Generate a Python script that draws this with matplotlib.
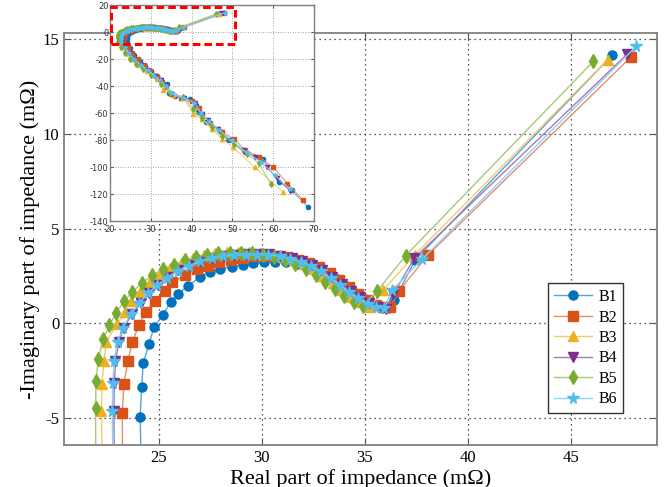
import numpy as np
import matplotlib
matplotlib.use('Agg')
import matplotlib.pyplot as plt
from matplotlib.patches import Rectangle
from matplotlib.colors import to_rgb

plt.rcParams['axes.unicode_minus'] = False

# 数据：实部 / 负虚部 (mΩ)
# *_x / *_y：主图可见部分（从低频端 -5 附近到高频端）
# *_tx / *_ty：低频尾部（只在小图中可见），按从远到近排列
b1_x = [24.10, 24.17, 24.25, 24.52, 24.77, 25.20, 25.58, 25.95, 26.44, 27.00, 27.49, 27.98, 28.55, 29.08,
        29.60, 30.12, 30.65, 31.18, 31.70, 32.20, 32.70, 33.18, 33.65, 34.10, 34.55, 35.00, 35.45, 35.85,
        36.15, 36.45, 37.46, 47.03]
b1_y = [-4.90, -3.35, -2.10, -1.10, -0.20, 0.47, 1.12, 1.56, 2.00, 2.44, 2.70, 2.88, 3.00, 3.10,
        3.17, 3.22, 3.24, 3.22, 3.15, 3.05, 2.88, 2.65, 2.35, 2.00, 1.62, 1.27, 0.98, 0.82,
        0.80, 1.25, 3.35, 14.14]
b1_tx = [68.6, 64.5, 61.3, 57.4, 53.1, 49.0, 47.0, 43.5, 41.5, 41.1, 39.6, 36.0, 34.5, 33.9, 32.6, 31.5,
         30.1, 28.7, 27.3, 26.0, 24.9, 24.15]
b1_ty = [-129.6, -117, -110.7, -94, -89, -80, -73, -66.7, -59, -54, -49.5, -47.5, -45, -38.5, -35.5, -32,
         -28.5, -25, -21, -16.5, -11.5, -7.5]

b2_x = [23.23, 23.31, 23.50, 23.71, 24.04, 24.39, 24.80, 25.30, 25.66, 26.27, 26.84, 27.40, 27.95, 28.50,
        29.04, 29.60, 30.15, 30.70, 31.25, 31.78, 32.30, 32.80, 33.30, 33.78, 34.25, 34.70, 35.15, 35.55,
        35.95, 36.25, 36.65, 38.10, 47.95]
b2_y = [-4.70, -3.20, -2.00, -1.00, -0.07, 0.60, 1.17, 1.70, 2.17, 2.53, 2.88, 3.05, 3.23, 3.35,
        3.46, 3.54, 3.56, 3.55, 3.48, 3.36, 3.18, 2.95, 2.65, 2.30, 1.92, 1.55, 1.22, 0.98,
        0.85, 0.85, 1.70, 3.63, 14.05]
b2_tx = [67.2, 63.5, 60.0, 56.5, 53.0, 50.5, 47.5, 44.5, 42.6, 41.8, 40.0, 37.5, 35.0, 33.8, 32.8, 31.6,
         29.9, 28.3, 26.8, 25.5, 24.3, 23.25]
b2_ty = [-124, -112, -100, -92, -87, -79, -74, -67, -61, -56, -51, -48.5, -45.5, -40.5, -36.5, -33,
         -29, -24.5, -20, -15.5, -11, -7.5]

b3_x = [22.22, 22.25, 22.34, 22.45, 22.98, 23.36, 23.63, 24.09, 24.52, 25.00, 25.55, 26.11, 26.65, 27.20,
        27.75, 28.30, 28.85, 29.40, 29.95, 30.50, 31.05, 31.55, 32.05, 32.55, 33.00, 33.45, 33.90, 34.35,
        34.80, 35.25, 35.90, 37.45, 46.80]
b3_y = [-4.63, -3.18, -1.95, -0.98, -0.02, 0.63, 1.16, 1.68, 2.10, 2.53, 2.92, 3.22, 3.45, 3.60,
        3.70, 3.75, 3.77, 3.76, 3.72, 3.64, 3.52, 3.35, 3.12, 2.85, 2.52, 2.15, 1.78, 1.42,
        1.12, 0.88, 1.74, 3.63, 13.90]
b3_tx = [62.3, 55.5, 50.2, 47.5, 44.9, 42.5, 40.4, 38.0, 35.5, 33.1, 31.4, 29.0, 27.0, 25.5, 24.2, 23.0,
         22.25]
b3_ty = [-118, -100, -85.2, -79, -71.6, -64, -60.5, -48.5, -46.5, -42.5, -34.6, -28.4, -24, -20, -15.5, -11,
         -7.5]

b4_x = [22.82, 22.85, 22.90, 23.06, 23.30, 23.71, 24.12, 24.52, 24.98, 25.45, 25.95, 26.50, 27.05, 27.60,
        28.15, 28.70, 29.25, 29.80, 30.35, 30.90, 31.45, 31.95, 32.45, 32.95, 33.42, 33.88, 34.33, 34.78,
        35.22, 35.65, 36.05, 36.40, 37.42, 47.76]
b4_y = [-4.63, -3.12, -1.98, -0.98, -0.23, 0.51, 1.07, 1.60, 2.04, 2.45, 2.80, 3.08, 3.30, 3.45,
        3.56, 3.62, 3.65, 3.66, 3.64, 3.58, 3.47, 3.30, 3.08, 2.80, 2.46, 2.10, 1.72, 1.38,
        1.08, 0.86, 0.78, 1.56, 3.45, 14.20]
b4_tx = [64.1, 61.0, 58.4, 55.5, 52.5, 49.5, 46.5, 44.0, 42.5, 40.8, 38.2, 35.2, 33.8, 32.4, 31.0, 29.3,
         27.6, 26.0, 24.8, 23.7, 22.85]
b4_ty = [-117.4, -108, -100, -92, -87, -80, -71.6, -65, -60.5, -52, -49, -45.5, -40, -35, -32, -28,
         -24, -20, -15.5, -11, -7.5]

b5_x = [21.93, 21.96, 22.06, 22.30, 22.60, 22.93, 23.31, 23.71, 24.20, 24.69, 25.22, 25.74, 26.28, 26.82,
        27.36, 27.90, 28.44, 28.98, 29.52, 30.06, 30.60, 31.12, 31.63, 32.13, 32.62, 33.10, 33.56, 34.02,
        34.47, 34.90, 35.60, 37.00, 46.10]
b5_y = [-4.46, -3.05, -1.86, -0.84, -0.10, 0.54, 1.16, 1.65, 2.14, 2.53, 2.88, 3.10, 3.33, 3.50,
        3.62, 3.70, 3.73, 3.73, 3.70, 3.63, 3.52, 3.36, 3.14, 2.87, 2.55, 2.20, 1.83, 1.47,
        1.15, 0.92, 1.70, 3.58, 13.80]
b5_tx = [59.4, 56.5, 53.5, 50.5, 47.5, 45.0, 42.5, 40.4, 38.0, 34.8, 32.5, 30.0, 28.0, 26.3, 24.8, 23.6,
         22.6, 21.95]
b5_ty = [-112.4, -97, -90, -82.5, -77, -70.5, -63.5, -57, -48, -45, -38, -31.5, -27.5, -23.5, -19.5, -15.5,
         -11, -7.5]

b6_x = [22.74, 22.77, 22.84, 23.00, 23.25, 23.65, 24.05, 24.47, 24.93, 25.42, 25.92, 26.47, 27.02, 27.57,
        28.12, 28.67, 29.22, 29.77, 30.32, 30.87, 31.40, 31.90, 32.40, 32.88, 33.35, 33.80, 34.25, 34.70,
        35.15, 35.55, 35.95, 36.33, 37.80, 48.20]
b6_y = [-4.63, -3.15, -2.00, -1.00, -0.25, 0.50, 1.07, 1.58, 2.02, 2.42, 2.77, 3.05, 3.27, 3.43,
        3.54, 3.60, 3.63, 3.63, 3.61, 3.54, 3.42, 3.25, 3.02, 2.74, 2.40, 2.04, 1.67, 1.33,
        1.04, 0.85, 0.80, 1.74, 3.40, 14.60]
b6_tx = [64.0, 60.5, 57.0, 53.5, 49.8, 46.8, 44.2, 42.3, 40.6, 38.0, 35.1, 33.7, 32.3, 30.9, 29.2, 27.5,
         25.9, 24.7, 23.6, 22.78]
b6_ty = [-116, -106, -96, -89, -80, -72.5, -66, -60, -52, -48.5, -45, -40, -35.5, -32, -28, -24,
         -20, -15.5, -11, -7.5]

labels = ['B1', 'B2', 'B3', 'B4', 'B5', 'B6']
colors = ['#0072BD', '#D95319', '#EDB120', '#7E2F8E', '#77AC30', '#4DBEEE']
markers = ['o', 's', '^', 'v', 'd', '*']
msizes = [6.5, 6.5, 7, 7, 7, 8.5]
series = [(b1_tx + b1_x, b1_ty + b1_y), (b2_tx + b2_x, b2_ty + b2_y), (b3_tx + b3_x, b3_ty + b3_y),
          (b4_tx + b4_x, b4_ty + b4_y), (b5_tx + b5_x, b5_ty + b5_y), (b6_tx + b6_x, b6_ty + b6_y)]


def lighter(c, f=0.35):
    r = np.array(to_rgb(c))
    return tuple(r + (1 - r) * f)


serif = ['Liberation Serif', 'DejaVu Serif']
fig = plt.figure(figsize=(6.64, 4.87), dpi=100)
ax = fig.add_axes([64 / 664, 42 / 487, 593 / 664, 412 / 487])

for (x, y), lab, c, m, ms in zip(series, labels, colors, markers, msizes):
    ax.plot(x, y, color=lighter(c), lw=1.0, marker=m, ms=ms, mfc=c, mec=c, label=lab)

ax.set_xlim(20.4, 49.2)
ax.set_ylim(-6.4, 15.3)
ax.set_xticks([25, 30, 35, 40, 45])
ax.set_yticks([-5, 0, 5, 10, 15])
ax.grid(True, ls=(0, (1, 3)), color='#222222', lw=0.9)
ax.tick_params(direction='in', top=True, right=True, length=5, color='#555555', labelsize=12)
for lab in ax.get_xticklabels() + ax.get_yticklabels():
    lab.set_family(serif)
for s in ax.spines.values():
    s.set_color('#808080')
    s.set_linewidth(1.3)
ax.set_xlabel('Real part of impedance (mΩ)', fontsize=16, family=serif, labelpad=2)
ax.set_ylabel('-Imaginary part of impedance (mΩ)', fontsize=16, family=serif, labelpad=2)

leg = ax.legend(loc='lower right', bbox_to_anchor=(623 / 664, 74 / 487), bbox_transform=fig.transFigure,
                borderaxespad=0, fancybox=False, framealpha=1, edgecolor='#333333',
                prop={'family': serif, 'size': 11.5}, handlelength=2.4, handletextpad=0.4,
                labelspacing=0.28, borderpad=0.35)
leg.get_frame().set_linewidth(1.0)

# 小图：完整阻抗谱
ins = fig.add_axes([110 / 664, 265.7 / 487, 204 / 664, 216 / 487])
for (x, y), c, m in zip(series, colors, markers):
    ins.plot(x, y, color=lighter(c), lw=0.7, marker=m, ms=3, mfc=c, mec=c)
ins.set_xlim(20, 70)
ins.set_ylim(-140, 20)
ins.set_xticks([20, 30, 40, 50, 60, 70])
ins.set_yticks([20, 0, -20, -40, -60, -80, -100, -120, -140])
ins.grid(True, ls=(0, (1, 2)), color='#888888', lw=0.6)
ins.tick_params(direction='in', top=True, right=True, length=2, color='#555555',
                labelsize=6, labelcolor='#333333', pad=1)
ins.tick_params(axis='x', pad=3)
for s in ins.spines.values():
    s.set_color('#808080')
    s.set_linewidth(1.0)
ins.add_patch(Rectangle((20.3, -8.7), 30.3, 27.2, fill=False, ec='red', lw=2.2,
                        ls=(0, (2.5, 1.3)), zorder=5))

fig.savefig('out.png', dpi=100)
